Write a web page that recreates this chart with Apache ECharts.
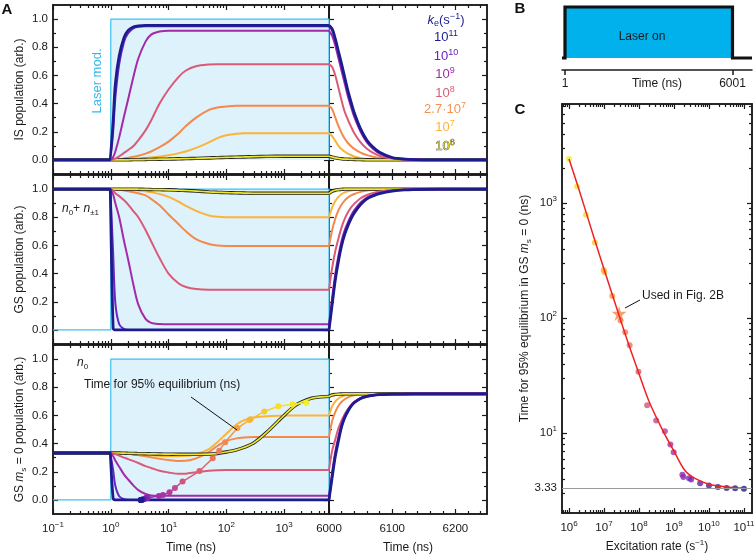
<!DOCTYPE html>
<html>
<head>
<meta charset="utf-8">
<title>Laser modulation and GS polarisation</title>
<script src="https://cdn.jsdelivr.net/npm/echarts@6.0.0/dist/echarts.min.js"></script>
<style>
  html, body { margin: 0; padding: 0; background: #fff; }
  #chart { width: 756px; height: 555px; }
</style>
</head>
<body>
<div id="chart"></div>
<script>
const FONT = '"Liberation Sans", Arial, Helvetica, sans-serif';
const INK = '#1a1a1a';

// ---- Panel A: sample times (ns) ----
const tOn = [0.1, 0.98, 1, 1.1, 1.2, 1.4, 1.7, 2, 2.5, 3,
             4, 5, 7, 10, 15, 20, 30, 50, 70, 100,
             150, 200, 300, 500, 1000, 1500, 2000, 3000, 4000, 6000];
const tOff = [6000, 6005, 6010, 6015, 6020, 6025, 6030, 6035, 6040, 6050, 6060, 6070, 6080, 6100, 6120, 6150, 6200, 6250];

// laser modulation
const laserT = [0.1, 1, 1, 6000, 6000];
const laserV = [0, 0, 1, 1, 0];

// IS population while laser on
const is11 = [0, 0, 0, 0.28, 0.54, 0.74, 0.87, 0.92, 0.945, 0.952,
              0.955, 0.955, 0.955, 0.955, 0.955, 0.955, 0.955, 0.955, 0.955, 0.955,
              0.955, 0.955, 0.955, 0.955, 0.955, 0.955, 0.955, 0.955, 0.955, 0.955];
const is10 = [0, 0, 0, 0.2, 0.44, 0.68, 0.84, 0.9, 0.935, 0.945,
              0.95, 0.95, 0.95, 0.95, 0.95, 0.95, 0.95, 0.95, 0.95, 0.95,
              0.95, 0.95, 0.95, 0.95, 0.95, 0.95, 0.95, 0.95, 0.95, 0.95];
const is9 = [0, 0, 0, 0.02, 0.06, 0.16, 0.31, 0.43, 0.6, 0.72,
             0.84, 0.89, 0.912, 0.918, 0.918, 0.918, 0.918, 0.918, 0.918, 0.918,
             0.918, 0.918, 0.918, 0.918, 0.918, 0.918, 0.918, 0.918, 0.918, 0.918];
const is8 = [0, 0, 0, 0.003, 0.01, 0.025, 0.05, 0.07, 0.1, 0.14,
             0.21, 0.28, 0.4, 0.5, 0.59, 0.635, 0.665, 0.678, 0.68, 0.68,
             0.68, 0.68, 0.68, 0.68, 0.68, 0.68, 0.68, 0.68, 0.68, 0.68];
const is27 = [0, 0, 0, 0, 0.002, 0.005, 0.01, 0.015, 0.022, 0.03,
              0.045, 0.06, 0.09, 0.13, 0.19, 0.24, 0.3, 0.355, 0.372, 0.38,
              0.384, 0.384, 0.384, 0.384, 0.384, 0.384, 0.384, 0.384, 0.384, 0.384];
const is7 = [0, 0, 0, 0, 0, 0.002, 0.003, 0.005, 0.007, 0.01,
             0.013, 0.017, 0.024, 0.033, 0.048, 0.06, 0.085, 0.125, 0.155, 0.175,
             0.186, 0.19, 0.19, 0.19, 0.19, 0.19, 0.19, 0.19, 0.19, 0.19];
const is6 = [0, 0, 0, 0, 0, 0, 0.001, 0.001, 0.002, 0.002,
             0.003, 0.004, 0.005, 0.006, 0.008, 0.009, 0.011, 0.014, 0.016, 0.018,
             0.02, 0.021, 0.023, 0.025, 0.026, 0.026, 0.026, 0.026, 0.026, 0.026];

// GS population (n0 + n±1) while laser on
const gs11 = [1, 1, 1, 0.01, 0, 0, 0, 0, 0, 0,
              0, 0, 0, 0, 0, 0, 0, 0, 0, 0,
              0, 0, 0, 0, 0, 0, 0, 0, 0, 0];
const gs10 = [1, 1, 1, 0.54, 0.19, 0.04, 0.005, 0, 0, 0,
              0, 0, 0, 0, 0, 0, 0, 0, 0, 0,
              0, 0, 0, 0, 0, 0, 0, 0, 0, 0];
const gs9 = [1, 1, 1, 0.96, 0.9, 0.8, 0.63, 0.5, 0.31, 0.18,
             0.078, 0.05, 0.042, 0.04, 0.04, 0.04, 0.04, 0.04, 0.04, 0.04,
             0.04, 0.04, 0.04, 0.04, 0.04, 0.04, 0.04, 0.04, 0.04, 0.04];
const gs8 = [1, 1, 1, 0.99, 0.97, 0.95, 0.92, 0.89, 0.84, 0.8,
             0.71, 0.63, 0.51, 0.4, 0.33, 0.305, 0.29, 0.285, 0.285, 0.285,
             0.285, 0.285, 0.285, 0.285, 0.285, 0.285, 0.285, 0.285, 0.285, 0.285];
const gs27 = [1, 1, 1, 1, 0.998, 0.995, 0.99, 0.985, 0.978, 0.97,
              0.955, 0.93, 0.885, 0.82, 0.75, 0.7, 0.645, 0.61, 0.6, 0.596,
              0.595, 0.595, 0.595, 0.595, 0.595, 0.595, 0.595, 0.595, 0.595, 0.595];
const gs7 = [1, 1, 1, 1, 1, 0.999, 0.998, 0.995, 0.993, 0.99,
             0.985, 0.978, 0.965, 0.945, 0.91, 0.88, 0.845, 0.812, 0.803, 0.8,
             0.8, 0.8, 0.8, 0.8, 0.8, 0.8, 0.8, 0.8, 0.8, 0.8];
const gs6 = [1, 1, 1, 1, 1, 1, 1, 1, 1, 0.999,
             0.998, 0.997, 0.996, 0.995, 0.992, 0.99, 0.986, 0.98, 0.977, 0.975,
             0.973, 0.972, 0.97, 0.97, 0.97, 0.97, 0.97, 0.97, 0.97, 0.97];

// GS ms = 0 population (n0) while laser on
const n011 = [0.333, 0.333, 0.333, 0.01, 0, 0, 0, 0, 0, 0,
              0, 0, 0, 0, 0, 0, 0, 0, 0, 0,
              0, 0, 0, 0, 0, 0, 0, 0, 0, 0];
const n010 = [0.333, 0.333, 0.333, 0.21, 0.1, 0.026, 0.005, 0, 0, 0,
              0, 0, 0, 0, 0, 0, 0, 0, 0, 0,
              0, 0, 0, 0, 0, 0, 0, 0, 0, 0];
const n09 = [0.333, 0.333, 0.333, 0.31, 0.28, 0.235, 0.18, 0.145, 0.1, 0.07,
             0.042, 0.032, 0.03, 0.03, 0.03, 0.03, 0.03, 0.03, 0.03, 0.03,
             0.03, 0.03, 0.03, 0.03, 0.03, 0.03, 0.03, 0.03, 0.03, 0.03];
const n08 = [0.333, 0.333, 0.333, 0.33, 0.325, 0.315, 0.3, 0.29, 0.275, 0.262,
             0.24, 0.227, 0.207, 0.195, 0.185, 0.186, 0.197, 0.207, 0.211, 0.213,
             0.213, 0.213, 0.213, 0.213, 0.213, 0.213, 0.213, 0.213, 0.213, 0.213];
const n027 = [0.333, 0.333, 0.333, 0.333, 0.333, 0.332, 0.33, 0.328, 0.323, 0.318,
              0.31, 0.302, 0.292, 0.283, 0.277, 0.278, 0.295, 0.34, 0.383, 0.418,
              0.437, 0.443, 0.446, 0.446, 0.446, 0.446, 0.446, 0.446, 0.446, 0.446];
const n07 = [0.333, 0.333, 0.333, 0.333, 0.333, 0.333, 0.333, 0.332, 0.33, 0.327,
             0.322, 0.318, 0.313, 0.31, 0.31, 0.313, 0.322, 0.36, 0.41, 0.47,
             0.535, 0.565, 0.585, 0.594, 0.598, 0.6, 0.6, 0.6, 0.6, 0.6];
const n06 = [0.333, 0.333, 0.333, 0.333, 0.333, 0.333, 0.332, 0.331, 0.33, 0.329,
             0.328, 0.327, 0.326, 0.325, 0.324, 0.324, 0.324, 0.325, 0.33, 0.34,
             0.355, 0.372, 0.405, 0.48, 0.6, 0.665, 0.695, 0.722, 0.73, 0.735];

// after the laser is switched off (t >= 6000 ns)
const is11Off = [0.955, 0.93, 0.86, 0.77, 0.68, 0.585, 0.49, 0.41, 0.335, 0.22, 0.14, 0.09, 0.055, 0.017, 0.006, 0.001, 0, 0];
const is10Off = [0.95, 0.92, 0.85, 0.755, 0.66, 0.565, 0.47, 0.39, 0.32, 0.21, 0.132, 0.084, 0.05, 0.015, 0.005, 0.001, 0, 0];
const is9Off = [0.918, 0.88, 0.81, 0.72, 0.63, 0.54, 0.45, 0.375, 0.305, 0.2, 0.125, 0.078, 0.046, 0.014, 0.004, 0.001, 0, 0];
const is8Off = [0.68, 0.66, 0.6, 0.51, 0.42, 0.34, 0.285, 0.235, 0.19, 0.125, 0.08, 0.05, 0.03, 0.01, 0.004, 0.001, 0, 0];
const is27Off = [0.384, 0.36, 0.3, 0.24, 0.19, 0.15, 0.12, 0.097, 0.078, 0.052, 0.034, 0.023, 0.015, 0.006, 0.002, 0, 0, 0];
const is7Off = [0.19, 0.168, 0.135, 0.1, 0.075, 0.058, 0.045, 0.033, 0.025, 0.014, 0.008, 0.005, 0.003, 0.001, 0, 0, 0, 0];
const is6Off = [0.026, 0.02, 0.015, 0.011, 0.008, 0.006, 0.005, 0.004, 0.003, 0.002, 0.001, 0.001, 0, 0, 0, 0, 0, 0];

const gs11Off = [0, 0.18, 0.355, 0.49, 0.6, 0.68, 0.74, 0.79, 0.83, 0.89, 0.93, 0.952, 0.968, 0.986, 0.994, 0.998, 1, 1];
const gs10Off = [0, 0.19, 0.365, 0.5, 0.61, 0.69, 0.75, 0.8, 0.84, 0.897, 0.934, 0.956, 0.971, 0.988, 0.995, 0.998, 1, 1];
const gs9Off = [0.04, 0.23, 0.4, 0.53, 0.635, 0.71, 0.765, 0.812, 0.85, 0.905, 0.94, 0.96, 0.974, 0.989, 0.995, 0.998, 1, 1];
const gs8Off = [0.285, 0.44, 0.56, 0.65, 0.73, 0.79, 0.835, 0.87, 0.895, 0.935, 0.958, 0.973, 0.982, 0.993, 0.997, 1, 1, 1];
const gs27Off = [0.595, 0.71, 0.79, 0.85, 0.89, 0.92, 0.94, 0.955, 0.965, 0.98, 0.99, 0.994, 0.997, 1, 1, 1, 1, 1];
const gs7Off = [0.8, 0.87, 0.915, 0.945, 0.965, 0.977, 0.985, 0.99, 0.993, 0.997, 1, 1, 1, 1, 1, 1, 1, 1];
const gs6Off = [0.97, 0.985, 0.992, 0.996, 0.998, 1, 1, 1, 1, 1, 1, 1, 1, 1, 1, 1, 1, 1];

const n011Off = [0, 0.16, 0.31, 0.42, 0.52, 0.585, 0.63, 0.665, 0.69, 0.72, 0.735, 0.743, 0.747, 0.751, 0.752, 0.753, 0.753, 0.753];
const n010Off = [0, 0.17, 0.32, 0.43, 0.525, 0.59, 0.635, 0.668, 0.692, 0.722, 0.737, 0.744, 0.748, 0.751, 0.752, 0.753, 0.753, 0.753];
const n09Off = [0.03, 0.2, 0.345, 0.45, 0.54, 0.6, 0.642, 0.673, 0.696, 0.724, 0.738, 0.745, 0.749, 0.752, 0.753, 0.753, 0.753, 0.753];
const n08Off = [0.213, 0.35, 0.43, 0.51, 0.565, 0.61, 0.645, 0.673, 0.695, 0.718, 0.732, 0.741, 0.746, 0.751, 0.753, 0.753, 0.753, 0.753];
const n027Off = [0.446, 0.56, 0.625, 0.668, 0.697, 0.715, 0.728, 0.737, 0.743, 0.749, 0.751, 0.752, 0.753, 0.753, 0.753, 0.753, 0.753, 0.753];
const n07Off = [0.6, 0.665, 0.7, 0.72, 0.733, 0.741, 0.746, 0.749, 0.751, 0.752, 0.753, 0.753, 0.753, 0.753, 0.753, 0.753, 0.753, 0.753];
const n06Off = [0.735, 0.745, 0.749, 0.751, 0.752, 0.753, 0.753, 0.753, 0.753, 0.753, 0.753, 0.753, 0.753, 0.753, 0.753, 0.753, 0.753, 0.753];

// ---- Panel B: laser pulse ----
const pulseT = [-106, 1, 1, 6001, 6001, 6700];
const pulseV = [0, 0, 1, 1, 0, 0];
const pulseTicks = [1, 6001];

// ---- Panel C: time for 95% equilibrium vs excitation rate ----
const rateC = [1e6, 1.7e6, 3.05e6, 5.5e6, 9.8e6, 1.03e7, 1.72e7, 2.97e7, 4.03e7, 5.4e7,
               9.7e7, 1.71e8, 3.1e8, 5.5e8, 7.9e8, 9.8e8, 1.74e9, 1.86e9, 2.7e9, 3.1e9,
               5.6e9, 1e10, 1.8e10, 3.2e10, 5.6e10, 1e11];
const t95C = [2430, 1400, 795, 455, 263, 252, 156, 95.5, 75.5, 58.2,
              34.3, 17.5, 12.9, 10.4, 8.0, 6.83, 4.37, 4.17, 4.06, 3.96,
              3.67, 3.51, 3.42, 3.35, 3.33, 3.30];
// n0 population reached at that time (dots in the bottom row of A)
const n0AtT95 = [0.69, 0.68, 0.665, 0.628, 0.572, 0.568, 0.51, 0.41, 0.35, 0.295,
                 0.205, 0.13, 0.085, 0.054, 0.035, 0.027, 0.016, 0.014, 0.012, 0.01,
                 0.005, 0.002, 0.001, 0, 0, 0];
const fitRate = [1e6, 2e6, 5e6, 1e7, 2e7, 5e7, 1e8, 2e8, 5e8, 1e9, 2e9, 4e9, 1e10, 3e10, 1e11];
const fitT = [2430, 1270, 520, 268, 140, 60, 33, 18.5, 10.3, 7.0, 4.8, 4.05, 3.6, 3.42, 3.34];
const starRate = 2.7e7;
const starT = 110;
const PLATEAU = 3.33;

// ---- styles ----
const CURVE_COLOR = {
  '1e11': '#1c1c8f', '1e10': '#6a24c0', '1e9': '#a32aa8', '1e8': '#d95b77',
  '2.7e7': '#f5884b', '1e7': '#fbb43a', '1e6': '#eee82c'
};
const DRAW_KEYS = ['1e7', '2.7e7', '1e6', '1e8', '1e9', '1e10', '1e11'];
const onRows = [
  [is7, is27, is6, is8, is9, is10, is11],
  [gs7, gs27, gs6, gs8, gs9, gs10, gs11],
  [n07, n027, n06, n08, n09, n010, n011]
];
const offRows = [
  [is7Off, is27Off, is6Off, is8Off, is9Off, is10Off, is11Off],
  [gs7Off, gs27Off, gs6Off, gs8Off, gs9Off, gs10Off, gs11Off],
  [n07Off, n027Off, n06Off, n08Off, n09Off, n010Off, n011Off]
];

const RATE_STOPS = [6, 6.5, 7, 7.43, 8, 8.5, 9, 9.5, 10, 11];
const RATE_COLS = ['#eef02a', '#f6dc2e', '#f9b434', '#f58a4a', '#dc5e72', '#c04a94', '#a22ea8', '#7626b6', '#3f209e', '#1c1c8c'];
function hex(c) { return [1, 3, 5].map(i => parseInt(c.substr(i, 2), 16)); }
function rateColor(lk) {
  if (lk <= RATE_STOPS[0]) return RATE_COLS[0];
  for (let i = 1; i < RATE_STOPS.length; i++) {
    if (lk <= RATE_STOPS[i]) {
      const f = (lk - RATE_STOPS[i - 1]) / (RATE_STOPS[i] - RATE_STOPS[i - 1]);
      const a = hex(RATE_COLS[i - 1]), b = hex(RATE_COLS[i]);
      return 'rgb(' + a.map((v, j) => Math.round(v + (b[j] - v) * f)).join(',') + ')';
    }
  }
  return RATE_COLS[RATE_COLS.length - 1];
}

function rich(color, size) {
  const sm = Math.round(size * 0.7);
  return {
    n: { fontFamily: FONT, fontSize: size, color: color, lineHeight: 16 },
    i: { fontFamily: FONT, fontSize: size, fontStyle: 'italic', color: color, lineHeight: 16 },
    sup: { fontFamily: FONT, fontSize: sm, color: color, lineHeight: 7, verticalAlign: 'top' },
    sub: { fontFamily: FONT, fontSize: sm, color: color, lineHeight: 7, verticalAlign: 'bottom' }
  };
}
function zrRich(fill, size, stroke) {
  const base = { fill: fill, fontFamily: FONT, fontSize: size, lineHeight: 16 };
  if (stroke) { base.stroke = stroke; base.lineWidth = 0.6; }
  const sm = Math.round(size * 0.7);
  return {
    n: Object.assign({}, base),
    i: Object.assign({}, base, { fontStyle: 'italic' }),
    sup: Object.assign({}, base, { fontSize: sm, lineHeight: 7, verticalAlign: 'top' }),
    sub: Object.assign({}, base, { fontSize: sm, lineHeight: 7, verticalAlign: 'bottom' })
  };
}

function logMinors(lo, hi) {
  const out = [];
  for (let n = Math.floor(lo); n <= Math.ceil(hi); n++) {
    for (let k = 2; k <= 9; k++) {
      const v = n + Math.log10(k);
      if (v > lo + 1e-9 && v < hi - 1e-9) out.push(v);
    }
  }
  return out;
}

// ---- axes ----
const grid = [], xAxis = [], yAxis = [];

function axis(gi, pos, s, major, mirror) {
  const a = {
    type: 'value', gridIndex: gi, position: pos, min: s.min, max: s.max,
    axisLine: { show: true, onZero: false, lineStyle: { color: INK, width: 1.5 } },
    axisTick: { show: true, inside: true, length: major ? 5 : 3, customValues: major ? s.major : s.minor,
                lineStyle: { color: INK, width: 1.2 } },
    axisLabel: { show: false },
    splitLine: { show: false },
    silent: true
  };
  if (major && !mirror && s.label) {
    a.axisLabel = { show: true, customValues: s.label.values, formatter: s.label.fmt, margin: s.label.margin,
                    fontFamily: FONT, fontSize: 11.5, color: INK, lineHeight: 16, rich: rich(INK, 11.5) };
  }
  if (major && !mirror && s.name) {
    a.name = s.name.text;
    a.nameLocation = 'middle';
    a.nameGap = s.name.gap;
    a.nameMoveOverlap = false;
    a.nameTextStyle = { fontFamily: FONT, fontSize: 12, color: INK, lineHeight: 16, rich: rich(INK, 12) };
  }
  return a;
}

function frame(box, xs, ys) {
  const gi = grid.length;
  grid.push(Object.assign({ containLabel: false, outerBoundsMode: 'none' }, box));
  const xi = xAxis.length, yi = yAxis.length;
  xAxis.push(axis(gi, 'bottom', xs, true, false), axis(gi, 'bottom', xs, false, false),
             axis(gi, 'top', xs, true, true), axis(gi, 'top', xs, false, true));
  yAxis.push(axis(gi, 'left', ys, true, false), axis(gi, 'left', ys, false, false),
             axis(gi, 'right', ys, true, true), axis(gi, 'right', ys, false, true));
  return { xi: xi, yi: yi };
}

const LOG_MAX = Math.log10(6000);
const offMinor = [];
for (let t = 6020; t < 6250; t += 20) if (t % 100 !== 0) offMinor.push(t);

const rowTop = [5, 175, 345];
const rowNames = ['IS population (arb.)', 'GS population (arb.)', 'GS {i|m}{sub|s} = 0 population (arb.)'];
const frames = rowTop.map((top, r) => {
  const last = r === 2;
  const xL = { min: -1, max: LOG_MAX, major: [-1, 0, 1, 2, 3], minor: logMinors(-1, LOG_MAX) };
  const xR = { min: 6000, max: 6250, major: [6000, 6100, 6200], minor: offMinor };
  if (last) {
    xL.label = { values: [-1, 0, 1, 2, 3], margin: 7,
                 fmt: v => '{n|10}{sup|' + String(Math.round(v)).replace('-', '\u2212') + '}' };
    xL.name = { text: 'Time (ns)', gap: 26 };
    xR.label = { values: [6000, 6100, 6200], margin: 7, fmt: v => '{n|' + v + '}' };
    xR.name = { text: 'Time (ns)', gap: 26 };
  }
  const yL = { min: -0.1, max: 1.1, major: [0, 0.2, 0.4, 0.6, 0.8, 1], minor: [0.1, 0.3, 0.5, 0.7, 0.9],
               label: { values: [0, 0.2, 0.4, 0.6, 0.8, 1], margin: 5, fmt: v => '{n|' + v.toFixed(1) + '}' },
               name: { text: rowNames[r], gap: 25 } };
  const yR = { min: -0.1, max: 1.1, major: [0, 0.2, 0.4, 0.6, 0.8, 1], minor: [0.1, 0.3, 0.5, 0.7, 0.9] };
  return {
    left: frame({ left: 53, top: top, width: 276, height: 169 }, xL, yL),
    right: frame({ left: 329, top: top, width: 158, height: 169 }, xR, yR)
  };
});

// panel B
const giB = grid.length;
grid.push({ left: 562, top: 7, width: 190, height: 51, containLabel: false, outerBoundsMode: 'none' });
const bxi = xAxis.length, byi = yAxis.length;
xAxis.push({
  type: 'value', gridIndex: giB, position: 'bottom', offset: 12, min: -106, max: 6700,
  axisLine: { show: true, onZero: false, lineStyle: { color: INK, width: 1.5 } },
  axisTick: { show: true, inside: false, length: 5, customValues: pulseTicks, lineStyle: { color: INK, width: 1.5 } },
  axisLabel: { show: true, customValues: pulseTicks, margin: 8, formatter: v => String(v),
               fontFamily: FONT, fontSize: 12, color: INK },
  splitLine: { show: false },
  name: 'Time (ns)', nameLocation: 'middle', nameGap: 8, nameMoveOverlap: false,
  nameTextStyle: { fontFamily: FONT, fontSize: 12, color: INK }
});
yAxis.push({ type: 'value', gridIndex: giB, min: 0, max: 1, show: false });

// panel C
const fC = frame({ left: 562, top: 104, width: 190, height: 409 },
  { min: 5.8, max: 11.23, major: [6, 7, 8, 9, 10, 11], minor: logMinors(5.8, 11.23),
    label: { values: [6, 7, 8, 9, 10, 11], margin: 7, fmt: v => '{n|10}{sup|' + Math.round(v) + '}' },
    name: { text: 'Excitation rate (s{sup|\u22121})', gap: 26 } },
  { min: 0.307, max: 3.863, major: [1, 2, 3], minor: logMinors(0.307, 3.863),
    label: { values: [Math.log10(PLATEAU), 1, 2, 3], margin: 5,
             fmt: v => Math.abs(v - Math.round(v)) < 1e-6 ? '{n|10}{sup|' + Math.round(v) + '}' : '{n|' + PLATEAU.toFixed(2) + '}' },
    name: { text: 'Time for 95% equilibrium in GS {i|m}{sub|s} = 0 (ns)', gap: 29 } });

// ---- series ----
const series = [];
const toLog = (ts, vs) => ts.map((t, i) => [Math.log10(t), vs[i]]);
const toLin = (ts, vs) => ts.map((t, i) => [t, vs[i]]);

function line(f, data, color, width) {
  return { type: 'line', xAxisIndex: f.xi, yAxisIndex: f.yi, data: data, smooth: 0.3,
           symbol: 'none', lineStyle: { color: color, width: width }, silent: true };
}
function curve(f, data, key) {
  if (key === '1e6') {
    series.push(line(f, data, '#222', 3.4));
    series.push(line(f, data, CURVE_COLOR[key], 1.7));
  } else {
    series.push(line(f, data, CURVE_COLOR[key], key === '1e11' ? 2.8 : 2));
  }
}

frames.forEach((fr, r) => {
  series.push({
    type: 'line', xAxisIndex: fr.left.xi, yAxisIndex: fr.left.yi, data: toLog(laserT, laserV),
    symbol: 'none', silent: true, lineStyle: { color: '#3cc1ef', width: 1.2 },
    areaStyle: { color: '#def2fb', opacity: 1 }
  });
  DRAW_KEYS.forEach((k, j) => {
    curve(fr.left, toLog(tOn, onRows[r][j]), k);
    curve(fr.right, toLin(tOff, offRows[r][j]), k);
  });
});

// equilibrium trajectory in bottom row of A
const lt = t95C.map(t => Math.log10(t));
const ltLo = Math.min.apply(null, lt), ltHi = Math.max.apply(null, lt);
const trajStops = t95C.map((t, i) => ({ offset: (Math.log10(t) - ltLo) / (ltHi - ltLo), color: rateColor(Math.log10(rateC[i])) }))
  .sort((a, b) => a.offset - b.offset);
series.push({
  type: 'line', xAxisIndex: frames[2].left.xi, yAxisIndex: frames[2].left.yi,
  data: t95C.map((t, i) => [Math.log10(t), n0AtT95[i], Math.log10(rateC[i])]),
  encode: { x: 0, y: 1 }, symbol: 'circle', symbolSize: 6, showSymbol: true, silent: true,
  itemStyle: { color: p => rateColor(p.value[2]) },
  lineStyle: { width: 1.5, color: new echarts.graphic.LinearGradient(0, 0, 1, 0, trajStops) }
});

// panel B pulse
series.push({
  type: 'line', xAxisIndex: bxi, yAxisIndex: byi, data: toLin(pulseT, pulseV), symbol: 'none', silent: true,
  clip: false, lineStyle: { color: '#111', width: 3.2, join: 'miter', cap: 'butt' },
  areaStyle: { color: '#00b1ec', opacity: 1 }
});

// panel C
series.push({
  type: 'line', xAxisIndex: fC.xi, yAxisIndex: fC.yi, silent: true, symbol: 'none', smooth: 0.3,
  data: fitRate.map((r, i) => [Math.log10(r), Math.log10(fitT[i])]),
  lineStyle: { color: '#ee2222', width: 1.5 },
  markLine: { silent: true, symbol: ['none', 'none'], label: { show: false },
              lineStyle: { color: '#9a9a9a', width: 1, type: 'solid' },
              data: [{ yAxis: Math.log10(PLATEAU) }] }
});
series.push({
  type: 'scatter', xAxisIndex: fC.xi, yAxisIndex: fC.yi, silent: true, symbolSize: 6,
  data: rateC.map((r, i) => [Math.log10(r), Math.log10(t95C[i])]),
  itemStyle: { color: p => rateColor(p.value[0]) }
});
series.push({
  type: 'scatter', xAxisIndex: fC.xi, yAxisIndex: fC.yi, silent: true, symbolSize: 15,
  symbol: 'path://M50,0 L61,35 L98,35 L68,57 L79,91 L50,70 L21,91 L32,57 L2,35 L39,35 Z',
  data: [[Math.log10(starRate), Math.log10(starT)]],
  itemStyle: { color: '#f4884a' }
});

// ---- text annotations ----
function txt(x, y, text, fill, opts, el) {
  return Object.assign({
    type: 'text', x: x, y: y, z: 100, silent: true,
    style: Object.assign({ text: text, fill: fill, fontFamily: FONT, fontSize: 12, lineHeight: 16,
                           align: 'left', verticalAlign: 'middle', rich: zrRich(fill, 12) }, opts || {})
  }, el || {});
}
const graphic = [
  txt(7, 10, 'A', '#111', { fontSize: 15, fontWeight: 'bold', align: 'center' }),
  txt(520, 9, 'B', '#111', { fontSize: 15, fontWeight: 'bold', align: 'center' }),
  txt(520, 110, 'C', '#111', { fontSize: 15, fontWeight: 'bold', align: 'center' }),
  txt(97, 81, 'Laser mod.', '#35b9ee', { fontSize: 13, align: 'center' }, { rotation: Math.PI / 2 }),
  txt(62, 209, '{i|n}{sub|0}+ {i|n}{sub|\u00b11}', INK),
  txt(77, 363, '{i|n}{sub|0}', INK),
  txt(84, 385, 'Time for 95% equilibrium (ns)', INK),
  { type: 'line', z: 100, silent: true, shape: { x1: 191, y1: 397, x2: 237, y2: 430 }, style: { stroke: '#111', lineWidth: 1 } },
  txt(642, 37, 'Laser on', INK, { align: 'center' }),
  txt(642, 296, 'Used in Fig. 2B', INK),
  { type: 'line', z: 100, silent: true, shape: { x1: 625, y1: 308, x2: 640, y2: 300 }, style: { stroke: '#111', lineWidth: 1 } },
  txt(446, 20, '{i|k}{sub|e}(s{sup|\u22121})', '#23238f', { align: 'center', fontSize: 13, rich: zrRich('#23238f', 13) }),
  txt(446, 37, '{n|10}{sup|11}', '#1c1c8f', { align: 'center', rich: zrRich('#1c1c8f', 13) }),
  txt(446, 56, '{n|10}{sup|10}', '#6a24c0', { align: 'center', rich: zrRich('#6a24c0', 13) }),
  txt(445, 74, '{n|10}{sup|9}', '#a32aa8', { align: 'center', rich: zrRich('#a32aa8', 13) }),
  txt(445, 93, '{n|10}{sup|8}', '#d95b77', { align: 'center', rich: zrRich('#d95b77', 13) }),
  txt(445, 109, '{n|2.7\u00b710}{sup|7}', '#f5924f', { align: 'center', rich: zrRich('#f5924f', 13) }),
  txt(445, 127, '{n|10}{sup|7}', '#fbb43a', { align: 'center', rich: zrRich('#fbb43a', 13) }),
  txt(445, 146, '{n|10}{sup|6}', '#d6d01c', { align: 'center', rich: zrRich('#d6d01c', 13, '#333') })
];

const chart = echarts.init(document.getElementById('chart'), null, { renderer: 'canvas' });
chart.setOption({
  animation: false,
  backgroundColor: '#ffffff',
  textStyle: { fontFamily: FONT },
  grid: grid,
  xAxis: xAxis,
  yAxis: yAxis,
  series: series,
  graphic: graphic
});
</script>
</body>
</html>
